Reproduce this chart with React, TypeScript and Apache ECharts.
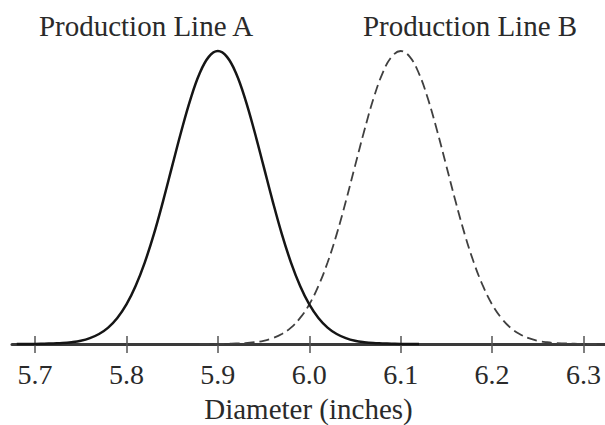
import React, { useEffect, useRef } from "react";
import * as echarts from "echarts";

// Diameters (inches) sampled along each curve
const diameterA = [
  5.68, 5.69, 5.70, 5.71, 5.72, 5.73, 5.74, 5.75, 5.76, 5.77, 5.78, 5.79, 5.80,
  5.81, 5.82, 5.83, 5.84, 5.85, 5.86, 5.87, 5.88, 5.89, 5.90, 5.91, 5.92, 5.93,
  5.94, 5.95, 5.96, 5.97, 5.98, 5.99, 6.00, 6.01, 6.02, 6.03, 6.04, 6.05, 6.06,
  6.07, 6.08, 6.09, 6.10, 6.11, 6.12,
];
const diameterB = [
  5.88, 5.89, 5.90, 5.91, 5.92, 5.93, 5.94, 5.95, 5.96, 5.97, 5.98, 5.99, 6.00,
  6.01, 6.02, 6.03, 6.04, 6.05, 6.06, 6.07, 6.08, 6.09, 6.10, 6.11, 6.12, 6.13,
  6.14, 6.15, 6.16, 6.17, 6.18, 6.19, 6.20, 6.21, 6.22, 6.23, 6.24, 6.25, 6.26,
  6.27, 6.28, 6.29, 6.30, 6.31, 6.32,
];
// Relative curve heights (peak = 1)
const heightA = [
  0.0, 0.0, 0.0, 0.001, 0.002, 0.003, 0.006, 0.011, 0.02, 0.034, 0.056, 0.089,
  0.135, 0.198, 0.278, 0.375, 0.487, 0.607, 0.726, 0.835, 0.923, 0.98, 1.0,
  0.98, 0.923, 0.835, 0.726, 0.607, 0.487, 0.375, 0.278, 0.198, 0.135, 0.089,
  0.056, 0.034, 0.02, 0.011, 0.006, 0.003, 0.002, 0.001, 0.0, 0.0, 0.0,
];
const heightB = [
  0.0, 0.0, 0.0, 0.001, 0.002, 0.003, 0.006, 0.011, 0.02, 0.034, 0.056, 0.089,
  0.135, 0.198, 0.278, 0.375, 0.487, 0.607, 0.726, 0.835, 0.923, 0.98, 1.0,
  0.98, 0.923, 0.835, 0.726, 0.607, 0.487, 0.375, 0.278, 0.198, 0.135, 0.089,
  0.056, 0.034, 0.02, 0.011, 0.006, 0.003, 0.002, 0.001, 0.0, 0.0, 0.0,
];
const tickValues = [5.7, 5.8, 5.9, 6.0, 6.1, 6.2, 6.3];
const seriesNames = ["Production Line A", "Production Line B"];
const axisTitle = "Diameter (inches)";

const FONT = "'Liberation Serif', 'DejaVu Serif', serif";

export default function App() {
  const ref = useRef<HTMLDivElement>(null);
  useEffect(() => {
    if (!ref.current) return;
    const chart = echarts.init(ref.current, undefined, { renderer: "svg" });
    chart.setOption({
      animation: false,
      backgroundColor: "#ffffff",
      grid: {
        left: 12,
        right: 0,
        top: 51,
        bottom: 81,
        containLabel: false,
        outerBoundsMode: "none",
      },
      xAxis: [
        {
          type: "value",
          min: 5.6748,
          max: 6.3235,
          splitLine: { show: false },
          axisLine: { show: true, lineStyle: { color: "#3a3a3a", width: 3 } },
          axisTick: {
            show: true,
            inside: false,
            length: 9,
            customValues: tickValues,
            lineStyle: { color: "#555", width: 1.5 },
          },
          axisLabel: {
            show: true,
            customValues: tickValues,
            formatter: (v: number) => v.toFixed(1),
            fontFamily: FONT,
            fontSize: 28,
            color: "#2a2a2a",
            margin: 16,
          },
          name: axisTitle,
          nameLocation: "middle",
          nameGap: 50,
          nameTextStyle: { fontFamily: FONT, fontSize: 29, color: "#2a2a2a" },
        },
        {
          type: "value",
          min: 5.6748,
          max: 6.3235,
          position: "bottom",
          splitLine: { show: false },
          axisLine: { show: false },
          axisTick: {
            show: true,
            inside: true,
            length: 8,
            customValues: tickValues,
            lineStyle: { color: "#555", width: 1.5 },
          },
          axisLabel: { show: false },
        },
      ],
      yAxis: {
        type: "value",
        min: 0,
        max: 1,
        show: false,
      },
      graphic: [
        {
          type: "text",
          x: 146,
          y: 26,
          style: {
            text: seriesNames[0],
            fontFamily: FONT,
            fontSize: 29,
            fill: "#2a2a2a",
            align: "center",
            verticalAlign: "middle",
          },
        },
        {
          type: "text",
          x: 470,
          y: 26,
          style: {
            text: seriesNames[1],
            fontFamily: FONT,
            fontSize: 29,
            fill: "#2a2a2a",
            align: "center",
            verticalAlign: "middle",
          },
        },
      ],
      series: [
        {
          name: seriesNames[0],
          type: "line",
          xAxisIndex: 0,
          data: diameterA.map((d, i) => [d, heightA[i]]),
          smooth: 0.4,
          showSymbol: false,
          clip: false,
          lineStyle: { color: "#151515", width: 2.5, type: "solid" },
          z: 3,
        },
        {
          name: seriesNames[1],
          type: "line",
          xAxisIndex: 0,
          data: diameterB.map((d, i) => [d, heightB[i]]),
          smooth: 0.4,
          showSymbol: false,
          clip: false,
          lineStyle: { color: "#404040", width: 1.8, type: [10, 5] },
          z: 2,
        },
      ],
    });
    return () => chart.dispose();
  }, []);
  return <div ref={ref} style={{ width: 605, height: 425, position: "absolute", left: 0, top: 0 }} />;
}
